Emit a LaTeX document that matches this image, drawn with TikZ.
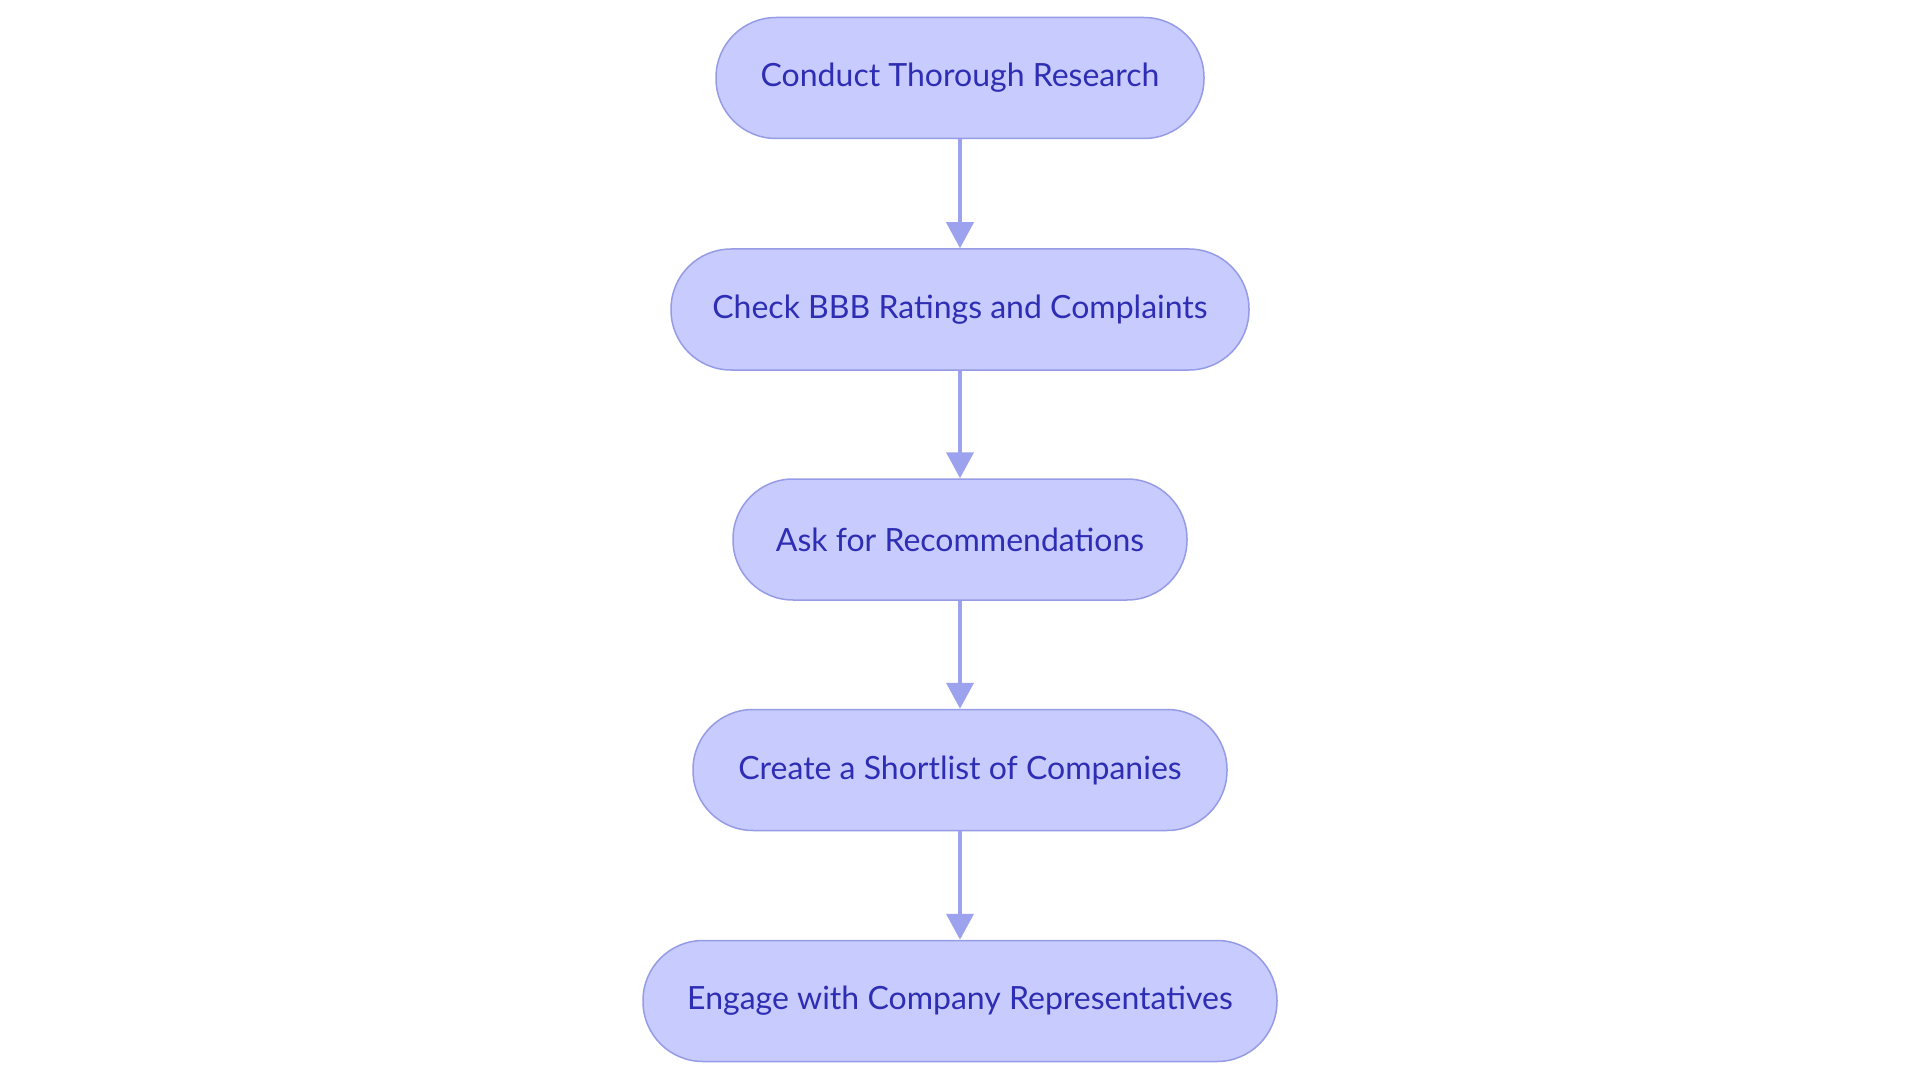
\documentclass[tikz,border=0pt]{standalone}
\usepackage{fontspec}
\setmainfont{Lato}
\usetikzlibrary{arrows.meta}
\definecolor{nodefill}{RGB}{200,203,253}
\definecolor{nodeline}{RGB}{150,155,230}
\definecolor{arrowcol}{RGB}{157,162,238}
\definecolor{textcol}{RGB}{46,46,180}
\tikzset{
  stepbox/.style={draw=nodeline, line width=1.5pt, fill=nodefill, rounded corners=60pt,
    minimum height=121pt, inner sep=0pt, text=textcol,
    font=\fontsize{32}{38}\selectfont},
  flow/.style={draw=arrowcol, line width=4pt,
    -{Triangle[width=27pt,length=26pt]}, shorten >=0pt}
}
\begin{document}
\begin{tikzpicture}[x=1pt,y=-1pt]
\useasboundingbox (0,0) rectangle (1920,1083);
\node[stepbox, minimum width=488pt] (n1) at (960,78) {Conduct Thorough Research};
\node[stepbox, minimum width=578pt] (n2) at (960,309.5) {Check BBB Ratings and Complaints};
\node[stepbox, minimum width=454pt] (n3) at (960,539.5) {Ask for Recommendations};
\node[stepbox, minimum width=534pt] (n4) at (960,770) {Create a Shortlist of Companies};
\node[stepbox, minimum width=634pt] (n5) at (960,1001) {Engage with Company Representatives};
\draw[flow] (n1) -- (n2);
\draw[flow] (n2) -- (n3);
\draw[flow] (n3) -- (n4);
\draw[flow] (n4) -- (n5);
\end{tikzpicture}
\end{document}
